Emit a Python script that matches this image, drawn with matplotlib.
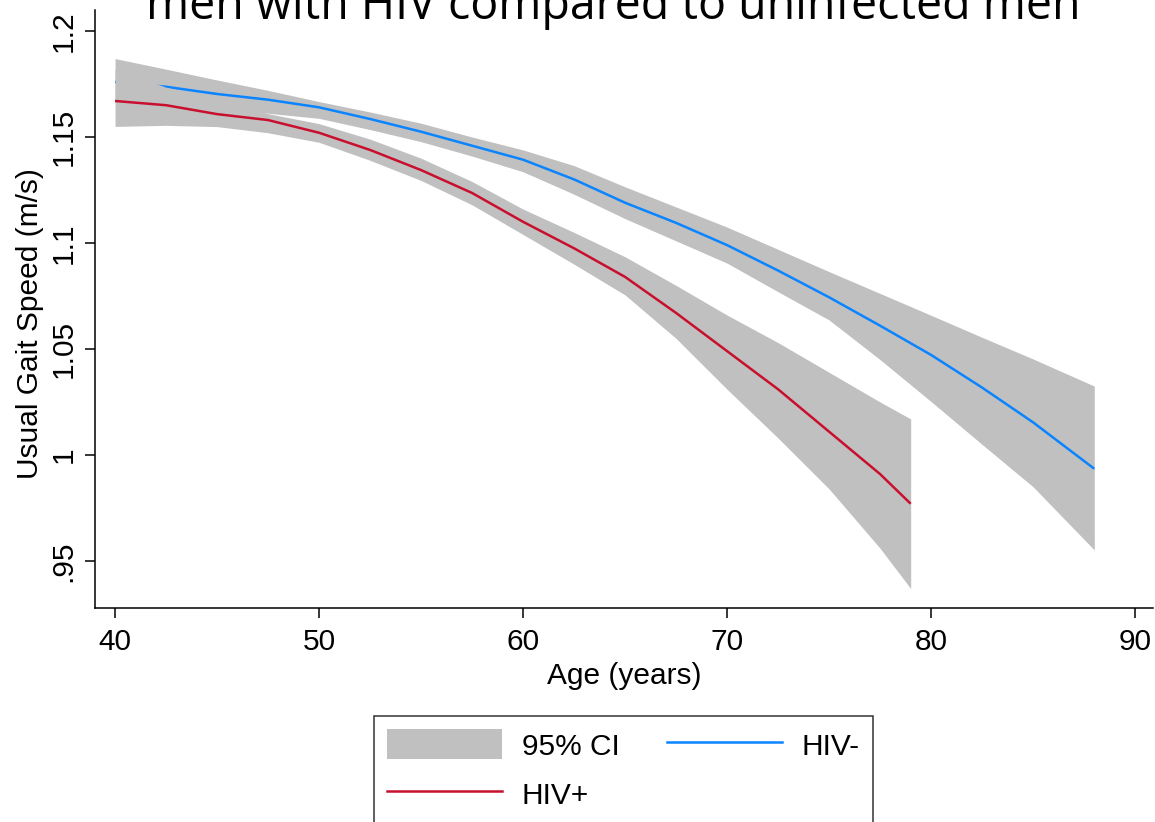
import numpy as np
import matplotlib
matplotlib.use("Agg")
import matplotlib.pyplot as plt
from matplotlib.patches import Patch
from matplotlib.lines import Line2D

# HIV+ predicted gait speed and 95% CI
age_pos = [40, 42.5, 45, 47.5, 50, 52.5, 55, 57.5, 60, 62.5, 65, 67.5, 70, 72.5, 75, 77.5, 79]
fit_pos = [1.167, 1.165, 1.1608, 1.158, 1.152, 1.1439, 1.1344, 1.1236, 1.110, 1.0975, 1.084,
           1.067, 1.049, 1.031, 1.011, 0.991, 0.977]
lo_pos = [1.155, 1.1555, 1.1549, 1.152, 1.1475, 1.139, 1.1295, 1.118, 1.104, 1.090, 1.0755,
          1.055, 1.031, 1.008, 0.984, 0.956, 0.937]
hi_pos = [1.182, 1.1735, 1.168, 1.161, 1.1563, 1.149, 1.140, 1.129, 1.116, 1.105, 1.0935,
          1.080, 1.066, 1.053, 1.039, 1.025, 1.017]

# HIV- predicted gait speed and 95% CI
age_neg = [40, 42.5, 45, 47.5, 50, 52.5, 55, 57.5, 60, 62.5, 65, 67.5, 70, 72.5, 75,
           77.5, 80, 82.5, 85, 88]
fit_neg = [1.176, 1.1737, 1.1703, 1.1676, 1.164, 1.1585, 1.1525, 1.1459, 1.1393, 1.130, 1.119,
           1.1095, 1.099, 1.087, 1.0744, 1.061, 1.0472, 1.0318, 1.0154, 0.9935]
lo_neg = [1.166, 1.166, 1.164, 1.1612, 1.1588, 1.1535, 1.1478, 1.141, 1.1336, 1.123, 1.1115,
          1.101, 1.0905, 1.077, 1.0637, 1.045, 1.0252, 1.005, 0.985, 0.9552]
hi_neg = [1.187, 1.182, 1.1769, 1.172, 1.1667, 1.1618, 1.1565, 1.150, 1.1439, 1.1365, 1.1265,
          1.117, 1.1075, 1.097, 1.0865, 1.0762, 1.0659, 1.0555, 1.0453, 1.0325]

yticks = [0.95, 1.0, 1.05, 1.1, 1.15, 1.2]
ytick_labels = ['.95', '1', '1.05', '1.1', '1.15', '1.2']
xticks = [40, 50, 60, 70, 80, 90]

gray = '#c0c0c0'
red = '#c8102e'
blue = '#0a84ff'
fs = 21.5

plt.rcParams['font.family'] = ['Liberation Sans', 'DejaVu Sans']

fig = plt.figure(figsize=(11.55, 8.22), dpi=100, facecolor='white')
ax = fig.add_axes([0.0823, 0.2603, 0.916, 0.7275])

# blue first so the red band covers the start of the HIV- line, as in the original
ax.fill_between(age_neg, lo_neg, hi_neg, color=gray, lw=0, zorder=1)
ax.plot(age_neg, fit_neg, color=blue, lw=1.8, solid_capstyle='butt', zorder=2)
ax.fill_between(age_pos, lo_pos, hi_pos, color=gray, lw=0, zorder=3)
ax.plot(age_pos, fit_pos, color=red, lw=1.8, solid_capstyle='butt', zorder=4)

ax.set_xlim(39.02, 90.88)
ax.set_ylim(0.9278, 1.2099)
ax.set_xticks(xticks)
ax.set_yticks(yticks)
ax.set_yticklabels(ytick_labels, rotation=90, va='center')
ax.tick_params(axis='both', labelsize=fs, length=7.5, width=1.1, color='black')
ax.tick_params(axis='x', pad=7)
ax.tick_params(axis='y', pad=5)
for s in ['top', 'right']:
    ax.spines[s].set_visible(False)
for s in ['left', 'bottom']:
    ax.spines[s].set_linewidth(1.1)

ax.set_xlabel('Age (years)', fontsize=fs, labelpad=4)
fig.text(30 / 1155, 1 - 324 / 822, 'Usual Gait Speed (m/s)', rotation=90,
         fontsize=fs, ha='center', va='center')

# title is clipped at the top in the source image
fig.text(0.531, 1 - 19 / 822, 'men with HIV compared to uninfected men',
         fontsize=33.5, ha='center', va='baseline', family=['Open Sans', 'DejaVu Sans'])

handles = [Patch(facecolor=gray, edgecolor='none'),
           Line2D([], [], color=red, lw=1.8),
           Line2D([], [], color=blue, lw=1.8)]
labels = ['95% CI', 'HIV+', 'HIV-']
leg = fig.legend(handles, labels, ncol=2, loc='upper center',
                 bbox_to_anchor=(0.540, 1 - 716 / 822), fontsize=fs,
                 frameon=True, fancybox=False, edgecolor='black',
                 handlelength=3.85, handleheight=1.17, handletextpad=0.65,
                 columnspacing=1.6, labelspacing=0.6, borderpad=0.45,
                 borderaxespad=0)
leg.get_frame().set_linewidth(1.1)

fig.savefig('out.png', dpi=100, facecolor='white')
